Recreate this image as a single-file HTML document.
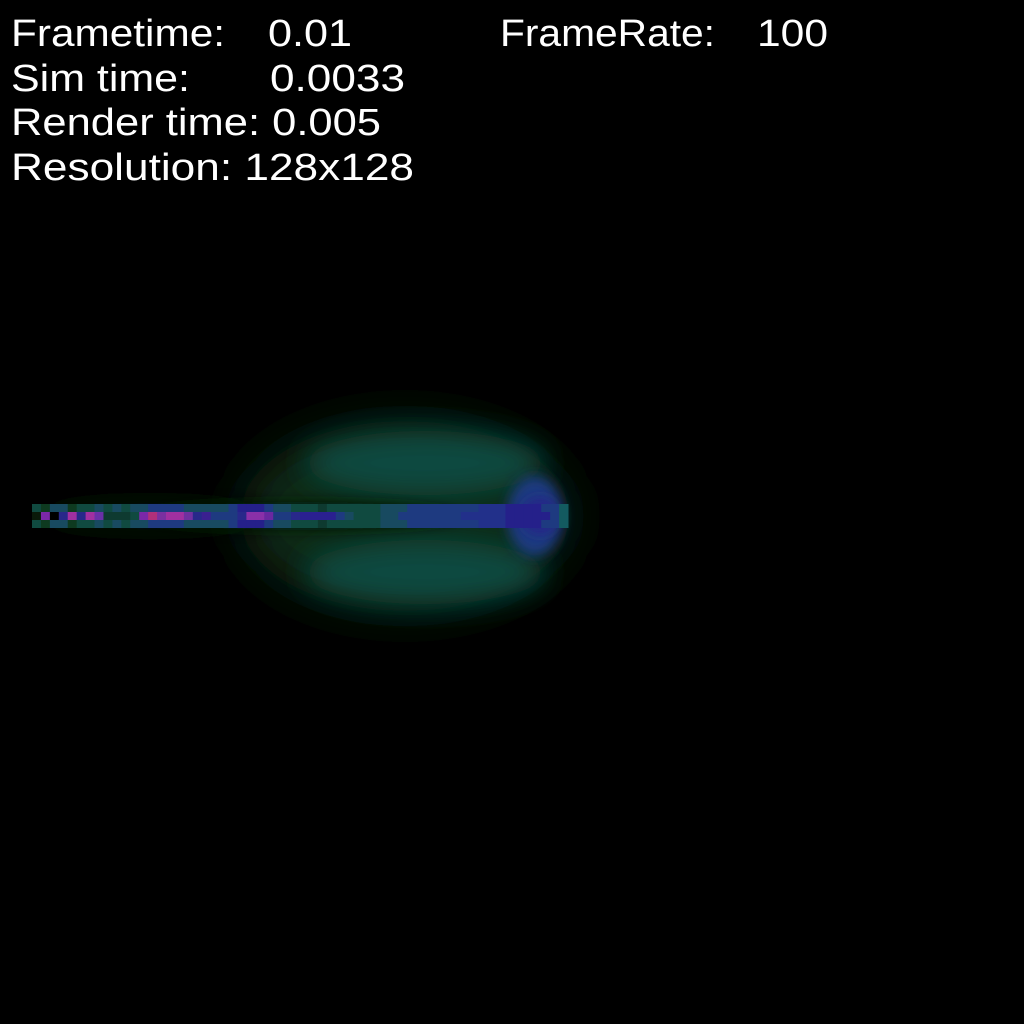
<!DOCTYPE html>
<html><head><meta charset="utf-8">
<style>
html,body{margin:0;padding:0;background:#000;}
svg{display:block;}
text{font-family:"Liberation Sans",sans-serif;font-size:38px;fill:#fff;}
</style></head>
<body>
<svg id="s" width="1024" height="1024" viewBox="0 0 1024 1024">
<defs>
<filter id="b1" x="-50%" y="-50%" width="200%" height="200%"><feGaussianBlur stdDeviation="24"/></filter>
<filter id="b2" x="-50%" y="-50%" width="200%" height="200%"><feGaussianBlur stdDeviation="14"/></filter>
<filter id="b3" x="-50%" y="-50%" width="200%" height="200%"><feGaussianBlur stdDeviation="6"/></filter>
</defs>
<rect width="1024" height="1024" fill="#000"/>
<g>
<ellipse cx="405" cy="516" rx="165" ry="95" fill="#0a2a12" filter="url(#b1)"/>
<ellipse cx="150" cy="516" rx="110" ry="14" fill="#061408" filter="url(#b2)"/>
<ellipse cx="425" cy="463" rx="120" ry="32" fill="#104a40" filter="url(#b2)"/>
<ellipse cx="425" cy="572" rx="120" ry="32" fill="#104a40" filter="url(#b2)"/>
<ellipse cx="300" cy="516" rx="160" ry="14" fill="#061a0a" filter="url(#b3)"/>
<ellipse cx="535" cy="516" rx="28" ry="40" fill="#1e3a80" filter="url(#b3)"/>
<ellipse cx="540" cy="516" rx="18" ry="18" fill="#25208a" filter="url(#b3)"/>
<g id="jet"></g>
</g>
<g>
<text x="11" y="46" textLength="214" lengthAdjust="spacingAndGlyphs">Frametime:</text>
<text x="268" y="46" textLength="84" lengthAdjust="spacingAndGlyphs">0.01</text>
<text x="500" y="46" textLength="215" lengthAdjust="spacingAndGlyphs">FrameRate:</text>
<text x="757" y="46" textLength="71" lengthAdjust="spacingAndGlyphs">100</text>
<text x="11" y="91" textLength="179" lengthAdjust="spacingAndGlyphs">Sim time:</text>
<text x="270" y="91" textLength="135" lengthAdjust="spacingAndGlyphs">0.0033</text>
<text x="11" y="135" textLength="370" lengthAdjust="spacingAndGlyphs">Render time: 0.005</text>
<text x="11" y="180" textLength="403" lengthAdjust="spacingAndGlyphs">Resolution: 128x128</text>
</g>
</svg>
<script>
const midRow = ["#0a1a0a","#7a28a8","#000000","#28288a","#a030a0","#28288a","#a030a0","#6a30a8","#0e3a30","#0e3a30","#0e3a30","#104a40","#7a28a8","#b0307a","#7a30a0","#a030a0","#a030a0","#7030a0","#28288a","#3a2090","#1e3a80","#1e3a80","#1e3a80","#28288a","#8a30a8","#8a30a8","#6a28a0","#1e3a80","#1e3a80","#28288a","#2a2090","#2a2090","#2a2090","#2a2090","#1e3a80","#184a60","#104a40","#104a40","#104a40","#184a60","#184a60","#1e3a80","#1e3a80","#1e3a80","#1e3a80","#1e3a80","#1e3a80","#1e3a80","#22308a","#22308a","#22308a","#22308a","#22308a","#25208a","#25208a","#25208a","#25208a","#25208a","#1e3a80","#135a60"];
const edgeRow = ["#104a40","#0e3a20","#184a60","#184a60","#0e3a20","#104a40","#104a40","#184a60","#104a40","#184a60","#104a40","#184a60","#184a60","#1e3a80","#1e3a80","#1e3a80","#1e3a80","#184a60","#184a60","#184a60","#184a60","#184a60","#1e3a80","#25208a","#25208a","#25208a","#1e3a80","#184a60","#184a60","#104a40","#104a40","#104a40","#0e3a30","#104a40","#104a40","#104a40","#104a40","#104a40","#104a40","#184a60","#184a60","#184a60","#1e3a80","#1e3a80","#1e3a80","#1e3a80","#1e3a80","#1e3a80","#1e3a80","#1e3a80","#22308a","#22308a","#22308a","#25208a","#25208a","#25208a","#25208a","#1e3a80","#1e3a80","#135a60"];
const g = document.getElementById('jet');
const NS = 'http://www.w3.org/2000/svg';
const cw = (568-32)/midRow.length;
function cell(x,y,c){
  const r=document.createElementNS(NS,'rect');
  r.setAttribute('x',x);r.setAttribute('y',y);
  r.setAttribute('width',cw+0.5);r.setAttribute('height',8);r.setAttribute('fill',c);
  
  
  g.appendChild(r);
}
midRow.forEach((c,i)=>{
  const x = 32 + i*cw;
  cell(x,504,edgeRow[i]); cell(x,512,c); cell(x,520,edgeRow[i]);
});
</script>
</body></html>
